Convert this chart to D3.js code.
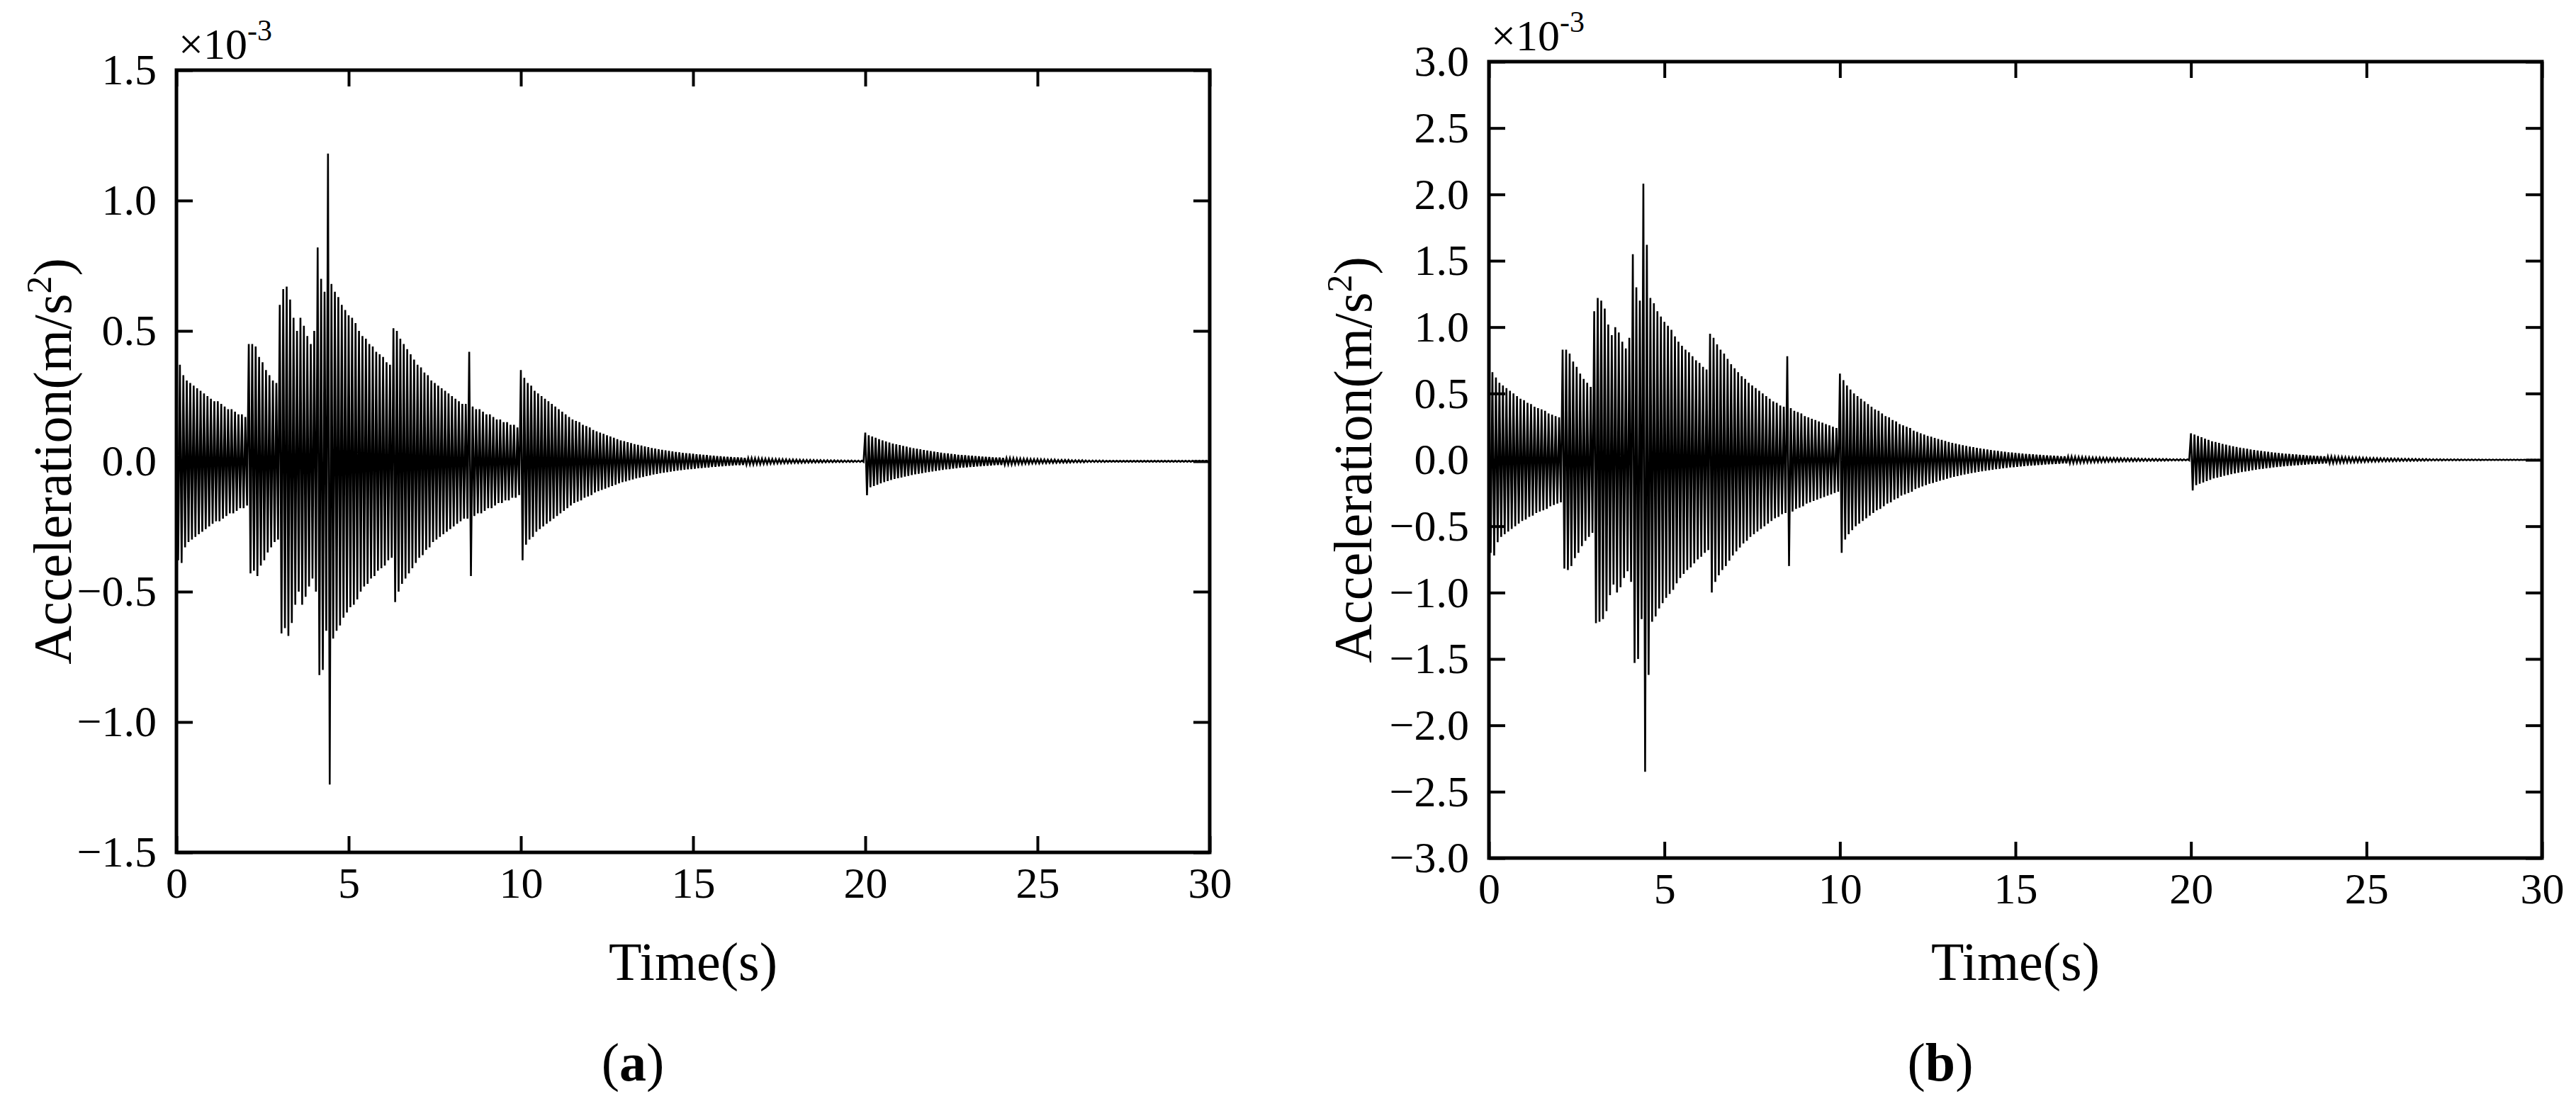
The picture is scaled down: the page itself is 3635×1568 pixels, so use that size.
<!DOCTYPE html>
<html>
<head>
<meta charset="utf-8">
<script src="https://cdn.jsdelivr.net/npm/d3@7"></script>
<style>
  body { margin: 0; background: #fff; }
  text { font-family: "Liberation Serif", "DejaVu Serif", serif; fill: #000; }
</style>
</head>
<body>
<div id="chart"></div>
<script>
// peak of each 0.1 s cycle (x10^-3 m/s2)
const cycleStep = 0.1
const upA = [
  0.38,0.37,0.33,0.31,0.30,0.29,0.28,0.27,0.26,0.25,0.24,0.23,0.23,0.22,0.21,0.20,0.20,0.19,0.18,0.18,0.17,
  0.45,0.45,0.44,0.40,0.38,0.35,0.33,0.31,0.30,
  0.60,0.66,0.67,0.62,0.55,0.50,0.55,0.52,0.48,0.45,0.50,
  0.82,0.70,0.65,
  1.18,
  0.68,0.65,0.63,0.60,0.58,0.56,0.55,0.53,0.50,0.48,0.47,0.45,0.44,0.42,0.41,0.40,0.38,0.37,
  0.51,0.50,0.47,0.45,0.43,0.41,0.39,0.37,0.36,0.34,0.33,0.31,0.30,0.29,0.28,0.27,0.26,0.25,0.24,0.23,0.22,0.22,
  0.42,
  0.21,0.20,0.20,0.19,0.18,0.18,0.17,0.16,0.16,0.15,0.15,0.14,0.14,0.13,
  0.35,0.32,0.30,0.29,0.27,0.26,0.25,0.24,0.23,0.22,0.21,0.20,0.19,0.18,0.17,0.16,0.155,0.15,0.14,0.135,
  0.13,0.12,0.115,0.11,0.105,0.10,0.095,0.09,0.085,0.08,0.077,0.073,0.07,0.066,0.063,0.06,0.057,0.054,0.051,0.049,
  0.046,0.044,0.042,0.04,0.038,0.036,0.034,0.032,0.031,0.03,
  0.029,0.027,0.026,0.025,0.024,0.022,0.021,0.02,0.019,0.018,0.017,0.016,0.015,0.015,0.014,0.013,0.012,0.012,0.011,0.011,
  0.010,0.0095,0.009,0.0085,0.008,0.0077,0.0073,0.007,0.0066,0.0063,0.006,0.0057,0.0054,0.0051,0.0049,0.0046,0.0044,0.0042,0.004,0.0038,
  0.0036,0.0034,0.0032,0.0031,0.003,0.0028,0.0027,0.0026,0.0025,0.0024,
  0.11,0.10,0.095,0.09,0.085,0.08,0.076,0.072,0.068,0.065,0.062,0.059,0.056,0.053,0.05,0.048,0.046,0.043,0.041,0.039,
  0.037,0.035,0.033,0.031,0.03,0.028,0.027,0.025,0.024,0.023,0.022,0.021,0.02,0.019,0.018,0.017,0.016,0.015,0.014,0.014,
  0.013,0.012,0.012,0.011,0.01,0.01,0.009,0.009,0.008,0.008,0.008,0.007,0.007,0.006,0.006,0.006,0.005,0.005,0.005,0.005,
  0.004,0.004,0.004,0.004,0.003,0.003,0.003,0.003,0.003,0.003,0.002,0.002,0.002,0.002,0.002,0.002,0.002,0.002,0.002,0.002,
  0.002,0.002,0.002,0.002,0.002,0.002,0.002,0.002,0.002,0.002,0.002,0.002,0.002,0.002,0.002,0.002,0.002,0.002,0.002,0.002
]
const upB = [
  0.70,0.66,0.62,0.58,0.56,0.54,0.52,0.50,0.48,0.46,0.45,0.43,0.42,0.40,0.39,0.38,0.37,0.35,0.34,0.33,0.32,
  0.83,0.83,0.80,0.74,0.70,0.65,0.61,0.58,0.55,
  1.12,1.22,1.20,1.14,1.02,0.94,1.00,0.96,0.89,0.84,0.92,
  1.55,1.30,1.20,
  2.08,
  1.62,1.22,1.18,1.12,1.08,1.04,1.01,0.98,0.93,0.89,0.86,0.83,0.81,0.78,0.75,0.73,0.70,0.68,
  0.95,0.92,0.87,0.83,0.80,0.76,0.72,0.69,0.66,0.63,0.61,0.58,0.56,0.54,0.52,0.50,0.48,0.46,0.44,0.43,0.41,0.40,
  0.78,
  0.39,0.37,0.36,0.35,0.33,0.32,0.31,0.30,0.29,0.28,0.27,0.26,0.25,0.24,
  0.65,0.60,0.56,0.53,0.50,0.48,0.46,0.44,0.42,0.40,0.38,0.37,0.35,0.33,0.32,0.30,0.29,0.27,0.26,0.25,
  0.24,0.22,0.21,0.20,0.19,0.18,0.175,0.165,0.157,0.15,0.142,0.135,0.128,0.122,0.116,0.11,0.105,0.1,0.095,0.09,
  0.086,0.082,0.078,0.074,0.07,0.067,0.063,0.06,0.057,0.055,
  0.052,0.05,0.047,0.045,0.043,0.041,0.039,0.037,0.035,0.033,0.032,0.03,0.029,0.027,0.026,0.025,0.024,0.022,0.021,0.02,
  0.019,0.018,0.017,0.016,0.016,0.015,0.014,0.013,0.013,0.012,0.011,0.011,0.01,0.01,0.009,0.009,0.008,0.008,0.007,0.007,
  0.007,0.006,0.006,0.006,0.005,0.005,0.005,0.005,0.004,0.004,
  0.20,0.19,0.18,0.17,0.16,0.15,0.14,0.135,0.128,0.12,0.114,0.108,0.102,0.097,0.092,0.087,0.083,0.078,0.074,0.07,
  0.067,0.063,0.06,0.057,0.054,0.051,0.049,0.046,0.044,0.042,0.04,0.038,0.036,0.034,0.032,0.031,0.029,0.028,0.026,0.025,
  0.024,0.022,0.021,0.02,0.019,0.018,0.017,0.016,0.016,0.015,0.014,0.013,0.013,0.012,0.011,0.011,0.01,0.01,0.009,0.009,
  0.008,0.008,0.008,0.007,0.007,0.006,0.006,0.006,0.005,0.005,0.005,0.005,0.004,0.004,0.004,0.004,0.004,0.003,0.003,0.003,
  0.003,0.003,0.003,0.002,0.002,0.002,0.002,0.002,0.002,0.002,0.002,0.002,0.002,0.002,0.001,0.001,0.001,0.001,0.001,0.001
]
// troughs differing from the mirrored peak: [cycle index, value]
const downA = [[1,-0.39],[21,-0.43],[22,-0.42],[30,-0.66],[31,-0.64],[41,-0.82],[42,-0.80],[44,-1.24],[63,-0.54],[85,-0.44],[100,-0.38],[200,-0.13]]
const downB = [[1,-0.72],[21,-0.82],[30,-1.23],[41,-1.53],[42,-1.50],[44,-2.35],[63,-1.00],[85,-0.80],[100,-0.70],[200,-0.23]]

const xTicks = [0, 5, 10, 15, 20, 25, 30]
const yTicksA = [-1.5, -1.0, -0.5, 0.0, 0.5, 1.0, 1.5]
const yTicksB = [-3.0, -2.5, -2.0, -1.5, -1.0, -0.5, 0.0, 0.5, 1.0, 1.5, 2.0, 2.5, 3.0]

const width = 3635, height = 1568
const svg = d3.select("#chart").append("svg").attr("width", width).attr("height", height)

const panels = [
  {up: upA, down: downA, ticks: yTicksA, lim: 1.5, left: 249, right: 1707, top: 99, bottom: 1203, ylabX: 100, tag: "a", tagX: 893},
  {up: upB, down: downB, ticks: yTicksB, lim: 3.0, left: 2101, right: 3587, top: 87, bottom: 1211, ylabX: 1935, tag: "b", tagX: 2738}
]

const fmt = v => (v < 0 ? "\u2212" : "") + Math.abs(v).toFixed(1)

panels.forEach(p => {
  const x = d3.scaleLinear().domain([0, 30]).range([p.left, p.right])
  const y = d3.scaleLinear().domain([-p.lim, p.lim]).range([p.bottom, p.top])
  const g = svg.append("g")

  // signal: each cycle goes up to its peak then down to its trough
  const lows = new Map(p.down)
  const pts = []
  p.up.forEach((v, i) => {
    const t = i * cycleStep
    pts.push([t, v])
    pts.push([t + cycleStep / 2, lows.has(i) ? lows.get(i) : -v])
  })
  pts.push([30, 0])
  g.append("path").datum(pts)
    .attr("fill", "none").attr("stroke", "#000").attr("stroke-width", 2.6)
    .attr("d", d3.line().x(d => x(d[0])).y(d => y(d[1])))

  // axes with inward ticks on all four sides
  const tl = 23
  g.append("g").attr("transform", `translate(0,${p.bottom})`)
    .call(d3.axisBottom(x).tickValues(xTicks).tickSizeInner(-tl).tickSizeOuter(0).tickPadding(20).tickFormat(d3.format("d")))
  g.append("g").attr("transform", `translate(0,${p.top})`)
    .call(d3.axisTop(x).tickValues(xTicks).tickSizeInner(-tl).tickSizeOuter(0).tickFormat(""))
  g.append("g").attr("transform", `translate(${p.left},0)`)
    .call(d3.axisLeft(y).tickValues(p.ticks).tickSizeInner(-tl).tickSizeOuter(0).tickPadding(28).tickFormat(fmt))
  g.append("g").attr("transform", `translate(${p.right},0)`)
    .call(d3.axisRight(y).tickValues(p.ticks).tickSizeInner(-tl).tickSizeOuter(0).tickFormat(""))
  g.selectAll(".domain").remove()
  g.selectAll(".tick line").attr("stroke", "#000").attr("stroke-width", 4)
  g.selectAll(".tick text").style("font-family", "Liberation Serif").style("font-size", "62px").attr("fill", "#000")

  g.append("rect").attr("x", p.left).attr("y", p.top)
    .attr("width", p.right - p.left).attr("height", p.bottom - p.top)
    .attr("fill", "none").attr("stroke", "#000").attr("stroke-width", 5)

  // exponent note
  const ex = g.append("text").attr("x", p.left + 3).attr("y", p.top - 16).style("font-size", "62px")
  ex.append("tspan").text("\u00d710")
  ex.append("tspan").attr("dy", -26).style("font-size", "42px").text("-3")

  const mid = (p.left + p.right) / 2
  g.append("text").attr("x", mid).attr("y", 1383).attr("text-anchor", "middle")
    .style("font-size", "76px").text("Time(s)")

  const yl = g.append("text").attr("text-anchor", "middle").style("font-size", "76px")
    .attr("transform", `translate(${p.ylabX},${(p.top + p.bottom) / 2}) rotate(-90)`)
  yl.append("tspan").text("Acceleration(m/s")
  yl.append("tspan").attr("dy", -28).style("font-size", "50px").text("2")
  yl.append("tspan").attr("dy", 28).text(")")

  const tg = g.append("text").attr("x", p.tagX).attr("y", 1525).attr("text-anchor", "middle").style("font-size", "76px")
  tg.append("tspan").text("(")
  tg.append("tspan").style("font-weight", "bold").text(p.tag)
  tg.append("tspan").text(")")
})
</script>
</body>
</html>
